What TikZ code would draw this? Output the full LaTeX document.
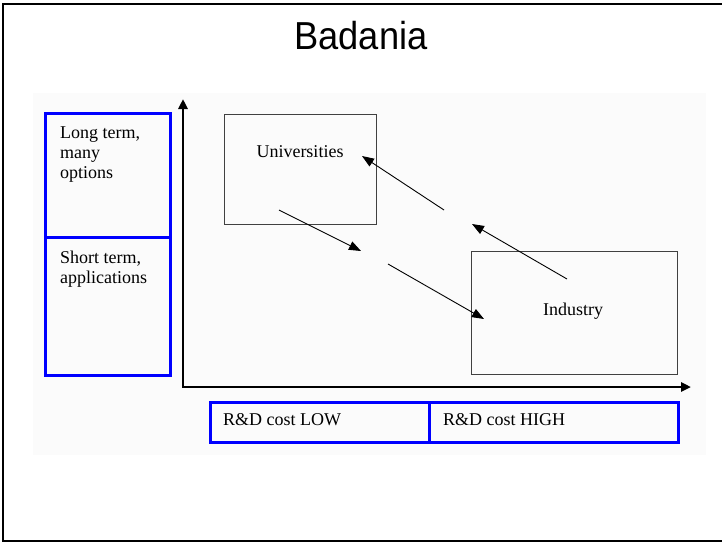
\documentclass[tikz,border=0pt]{standalone}
\usepackage{fontspec}
\setmainfont{Liberation Serif}
\newfontfamily\titlefont{Liberation Sans}
\usetikzlibrary{arrows.meta}

\begin{document}
\begin{tikzpicture}[x=1pt,y=-1pt,
    txt/.style={font=\fontsize{18}{20}\selectfont,inner sep=0pt,align=left},
    bluebox/.style={draw=blue,line width=3pt},
    graybox/.style={draw=black!75,line width=1pt,inner sep=0pt},
    axis/.style={line width=2.5pt,line join=miter,{Triangle[length=10pt,width=9pt]}-{Triangle[length=10pt,width=9pt]}},
    flow/.style={line width=0.9pt,-{Triangle[length=12pt,width=9pt]}}]
    \useasboundingbox (0,0) rectangle (722,544);
    \draw[line width=2pt] (722,4) -| (3,541) -- (722,541);
    \fill[black!1.5] (33,93) rectangle (706,455);

    \node[font=\titlefont\fontsize{39}{44}\selectfont,xscale=0.93,transform shape,anchor=base,inner sep=0pt] (title) at (361,49) {Badania};

    % left scale
    \draw[bluebox] (45,113) rectangle (170,375);
    \draw[bluebox] (45,237) -- (170,237);
    \node[txt,anchor=north west] (long) at (60,127) {Long term,\\many\\options};
    \node[txt,anchor=north west] (short) at (60,251) {Short term,\\applications};

    % axes
    \coordinate (ytip) at (183,99);
    \coordinate (origin) at (183,387);
    \coordinate (xtip) at (691,387);
    \draw[axis] (ytip) -- (origin) -- (xtip);

    % bottom scale
    \draw[bluebox] (210,402) rectangle (678,442);
    \draw[bluebox] (429,402) -- (429,442);
    \node[txt,anchor=base west] (low) at (223,425) {R\&D cost LOW};
    \node[txt,anchor=base west] (high) at (443,425) {R\&D cost HIGH};

    % boxes
    \node[graybox,minimum width=152pt,minimum height=110pt] (uni) at (300,169) {};
    \node[txt,anchor=base] (unilbl) at (300,157) {Universities};
    \node[graybox,minimum width=206pt,minimum height=123pt] (ind) at (574,312.5) {};
    \node[txt,anchor=base] (indlbl) at (573,315) {Industry};

    \coordinate (d1) at (279,210);
    \coordinate (d2) at (361,251);
    \coordinate (d3) at (388,264);
    \coordinate (d4) at (484,319);
    \coordinate (u1) at (567,279);
    \coordinate (u2) at (472,224);
    \coordinate (u3) at (444,210);
    \coordinate (u4) at (362,156);
    \draw[flow] (d1) -- (d2);
    \draw[flow] (d3) -- (d4);
    \draw[flow] (u1) -- (u2);
    \draw[flow] (u3) -- (u4);
\end{tikzpicture}
\end{document}
